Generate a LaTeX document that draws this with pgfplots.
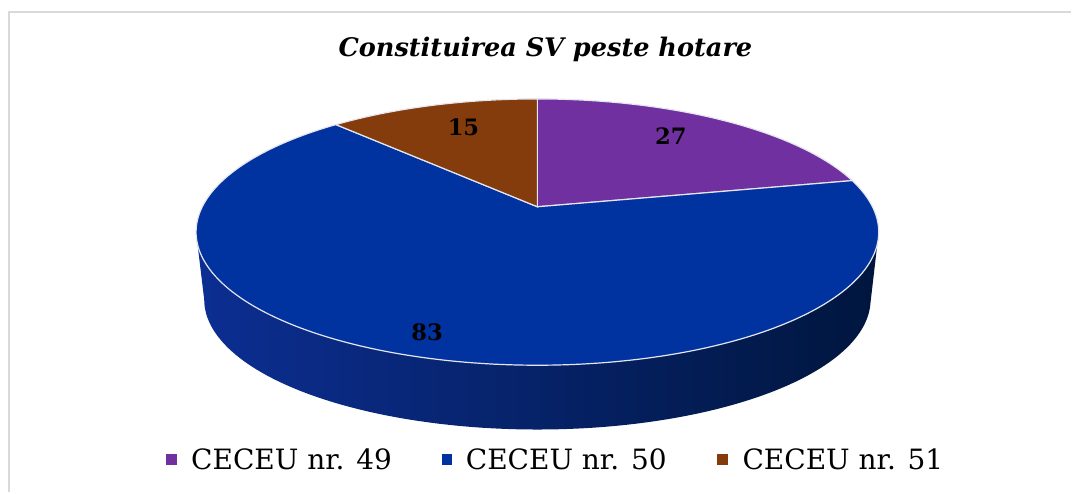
\documentclass[border=0pt]{standalone}
\usepackage{pgfplots}
\usepackage{pgfplotstable}
\pgfplotsset{compat=1.18}
\usepackage{fontspec}
\setmainfont{DejaVu Serif}
\definecolor{c49}{HTML}{7030A0}
\definecolor{c50}{HTML}{0033A0}
\definecolor{c51}{HTML}{843C0C}
\definecolor{sideL}{RGB}{12,46,146}
\definecolor{sideM}{RGB}{6,32,100}
\definecolor{sideR}{RGB}{0,22,62}
\definecolor{edge}{HTML}{E6E6EE}

\pgfplotstableread{
name value
49 27
50 83
51 15
}\piedata

\pgfplotstablegetelem{0}{value}\of\piedata \let\va\pgfplotsretval
\pgfplotstablegetelem{1}{value}\of\piedata \let\vb\pgfplotsretval
\pgfplotstablegetelem{2}{value}\of\piedata \let\vc\pgfplotsretval
\pgfmathsetmacro{\tot}{\va+\vb+\vc}
\pgfmathsetmacro{\aA}{90}
\pgfmathsetmacro{\aB}{90-(\va/\tot)*360}
\pgfmathsetmacro{\aC}{\aB-(\vb/\tot)*360}
\pgfmathsetmacro{\aD}{\aC-(\vc/\tot)*360}

\begin{document}
\begin{tikzpicture}
\begin{axis}[
  scale only axis, width=536pt, height=246.5pt,
  xmin=0, xmax=1072, ymin=0, ymax=493,
  hide axis, clip=false,
  declare function={
    TX(\t)=538+335.5*cos(\t)/(1+0.19*sin(\t));
    TY(\t)=286+128.5*sin(\t)/(1+0.19*sin(\t));
    BX(\t)=538+327.5*cos(\t)/(1+0.19*sin(\t));
    BY(\t)=217.8+125.4*sin(\t)/(1+0.19*sin(\t));
  },
]
\path (axis cs:0,0) rectangle (axis cs:1072,493);
% frame
\draw[color={rgb,255:red,217;green,217;blue,217}, line width=1.2pt]
  (axis cs:9,0) -- (axis cs:9,481) -- (axis cs:1072,481);

% side wall
\addplot[draw=none, left color=sideL, middle color=sideM, right color=sideR,
  domain=0:2, samples=201, variable=\t]
  ({ifthenelse(\t<=1, TX(190.95+158.1*\t), BX(349.05-158.1*(\t-1)))},
   {ifthenelse(\t<=1, TY(190.95+158.1*\t), BY(349.05-158.1*(\t-1)))}) -- cycle;

% top slices
\addplot[fill=c49, draw=edge, line width=0.6pt, domain=\aB:\aA, samples=60, variable=\t]
  ({TX(\t)},{TY(\t)}) -- (axis cs:538,286) -- cycle;
\addplot[fill=c50, draw=edge, line width=0.6pt, domain=\aC:\aB, samples=180, variable=\t]
  ({TX(\t)},{TY(\t)}) -- (axis cs:538,286) -- cycle;
\addplot[fill=c51, draw=edge, line width=0.6pt, domain=\aD:\aC, samples=40, variable=\t]
  ({TX(\t)},{TY(\t)}) -- (axis cs:538,286) -- cycle;

% data labels
\node[font=\fontsize{11.3pt}{13pt}\selectfont\bfseries] at (axis cs:671.5,356.5) {27};
\node[font=\fontsize{11.3pt}{13pt}\selectfont\bfseries] at (axis cs:464,366) {15};
\node[font=\fontsize{11.3pt}{13pt}\selectfont\bfseries] at (axis cs:427.5,160) {83};

% title
\node[anchor=base, font=\fontsize{12.8pt}{15pt}\selectfont\bfseries\itshape]
  at (axis cs:546,436) {Constituirea SV peste hotare};

% legend
\fill[c49] (axis cs:166,27) rectangle (axis cs:177,38);
\node[anchor=base west, inner sep=0pt, font=\fontsize{14pt}{16pt}\selectfont] at (axis cs:191,23) {CECEU nr. 49};
\fill[c50] (axis cs:442,27) rectangle (axis cs:453,38);
\node[anchor=base west, inner sep=0pt, font=\fontsize{14pt}{16pt}\selectfont] at (axis cs:466,23) {CECEU nr. 50};
\fill[c51] (axis cs:718,27) rectangle (axis cs:729,38);
\node[anchor=base west, inner sep=0pt, font=\fontsize{14pt}{16pt}\selectfont] at (axis cs:743,23) {CECEU nr. 51};
\end{axis}
\end{tikzpicture}
\end{document}
